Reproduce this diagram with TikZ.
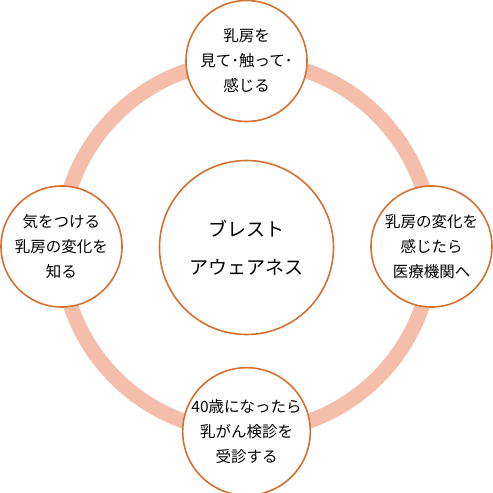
\documentclass[tikz,border=0pt]{standalone}
\usepackage{fontspec}
\setmainfont{Noto Sans CJK JP}
\definecolor{ringc}{RGB}{244,190,170}
\definecolor{edgec}{RGB}{214,112,46}
\begin{document}
\begin{tikzpicture}[x=1pt,y=-1pt,
  smallc/.style={circle,draw=edgec,line width=1.6pt,fill=white,minimum size=121pt,inner sep=0pt,align=center,font=\fontsize{15.5}{25}\selectfont},
  bigc/.style={circle,draw=edgec,line width=1.6pt,fill=white,minimum size=174pt,inner sep=0pt,align=center,font=\fontsize{19}{38}\selectfont}]
\useasboundingbox (0,0) rectangle (493,493);
\coordinate (o) at (246.5,246.5);
\draw[ringc,line width=15pt] (o) circle[radius=185.5];
\node[bigc] (c) at (246.5,247.5) {ブレスト\\アウェアネス};
\node[smallc] (t) at (246.5,61) {乳房を\\見て･触って･\\感じる};
\node[smallc] (r) at (431.5,246.5) {乳房の変化を\\感じたら\\医療機関へ};
\node[smallc] (b) at (246.5,431.5) {40歳になったら\\乳がん検診を\\受診する};
\node[smallc] (l) at (61.5,246.5) {気をつける\\乳房の変化を\\知る};
\end{tikzpicture}
\end{document}
